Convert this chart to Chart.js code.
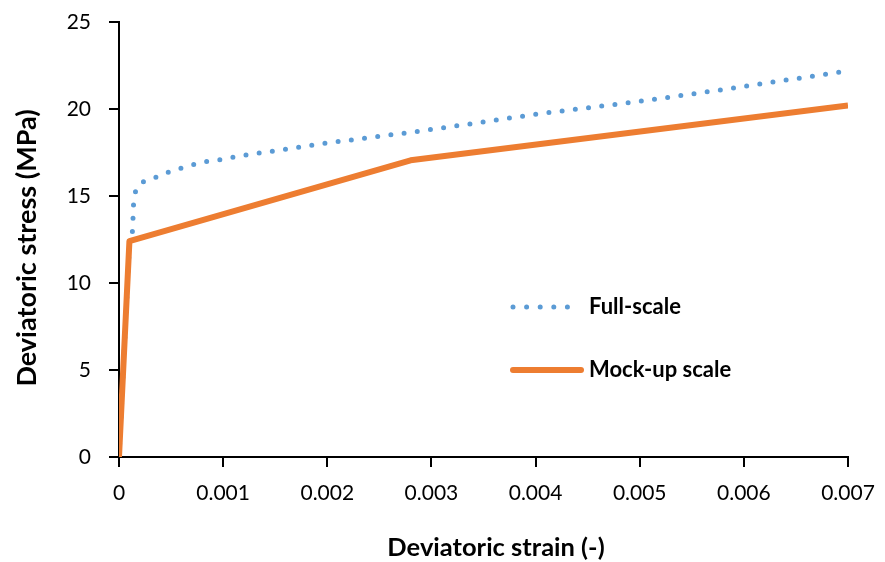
<!DOCTYPE html>
<html>
<head>
<meta charset="utf-8">
<script src="https://cdn.jsdelivr.net/npm/chart.js@4.4.1/dist/chart.umd.min.js"></script>
<style>
  html, body { margin: 0; padding: 0; background: #ffffff; }
  #wrap { width: 885px; height: 562px; position: relative; }
</style>
</head>
<body>
<div id="wrap"><canvas id="chart"></canvas></div>
<script>
// Deviatoric stress–strain response, two model scales
const fullScaleStrain = [0, 0.0001, 0.00013, 0.00014, 0.00016, 0.00021, 0.00033, 0.00045, 0.00058, 0.0007, 0.00083, 0.00096, 0.0012, 0.00147, 0.00173, 0.002, 0.0024, 0.0028, 0.0033, 0.004, 0.005, 0.0059, 0.007];
const fullScaleStress = [0, 12.2, 13.0, 14.6, 15.3, 15.76, 16.02, 16.32, 16.57, 16.78, 16.97, 17.07, 17.34, 17.57, 17.8, 18.05, 18.35, 18.66, 19.08, 19.7, 20.44, 21.2, 22.2];

const mockupStrain = [0, 0.0001, 0.0028, 0.007];
const mockupStress = [0, 12.4, 17.05, 20.2];

const seriesNames = ['Full-scale', 'Mock-up scale'];
const xTickLabels = ['0', '0.001', '0.002', '0.003', '0.004', '0.005', '0.006', '0.007'];
const yTickLabels = ['0', '5', '10', '15', '20', '25'];
const xTitle = 'Deviatoric strain (-)';
const yTitle = 'Deviatoric stress (MPa)';

const BLUE = '#5B9BD5';
const ORANGE = '#ED7D31';
const FONT = 'Lato, "Open Sans", sans-serif';

const toPoints = (xs, ys) => xs.map((x, i) => ({ x: x, y: ys[i] }));

// Axis titles and legend drawn relative to the plot area
const annotations = {
  id: 'annotations',
  afterDatasetsDraw(chart) {
    const { ctx, chartArea } = chart;
    ctx.save();

    // axis titles
    ctx.fillStyle = '#000000';
    ctx.textAlign = 'center';
    ctx.textBaseline = 'middle';
    ctx.font = 'bold 25.5px ' + FONT;
    ctx.fillText(xTitle, chartArea.left + 377, chartArea.bottom + 91);
    ctx.save();
    ctx.translate(chartArea.left - 92, chartArea.top + 226);
    ctx.rotate(-Math.PI / 2);
    ctx.font = 'bold 27px ' + FONT;
    ctx.fillText(yTitle, 0, 0);
    ctx.restore();

    // legend
    const x0 = chartArea.left + 394;
    const x1 = chartArea.left + 462;
    const tx = chartArea.left + 470;
    const rows = [chartArea.top + 285, chartArea.top + 348];
    ctx.strokeStyle = BLUE;
    ctx.lineWidth = 5;
    ctx.lineCap = 'round';
    ctx.setLineDash([0, 13.6]);
    ctx.beginPath();
    ctx.moveTo(x0, rows[0]);
    ctx.lineTo(x1 - 8, rows[0]);
    ctx.stroke();
    ctx.setLineDash([]);
    ctx.strokeStyle = ORANGE;
    ctx.lineWidth = 6;
    ctx.beginPath();
    ctx.moveTo(x0, rows[1]);
    ctx.lineTo(x1, rows[1]);
    ctx.stroke();
    ctx.font = 'bold 22px ' + FONT;
    ctx.textAlign = 'left';
    ctx.fillText(seriesNames[0], tx, rows[0]);
    ctx.fillText(seriesNames[1], tx, rows[1]);
    ctx.restore();
  }
};

new Chart(document.getElementById('chart'), {
  type: 'line',
  data: {
    datasets: [
      {
        label: seriesNames[1],
        data: toPoints(mockupStrain, mockupStress),
        borderColor: ORANGE,
        borderWidth: 6,
        pointRadius: 0,
        tension: 0,
        borderJoinStyle: 'round',
        order: 0
      },
      {
        label: seriesNames[0],
        data: toPoints(fullScaleStrain, fullScaleStress),
        borderColor: BLUE,
        borderWidth: 5,
        borderDash: [0, 13.3],
        borderCapStyle: 'round',
        pointRadius: 0,
        tension: 0,
        order: 1
      }
    ]
  },
  options: {
    responsive: true,
    maintainAspectRatio: false,
    animation: false,
    devicePixelRatio: 1,
    layout: { padding: { left: 0, right: 37, top: 22, bottom: 0 } },
    plugins: {
      legend: { display: false },
      tooltip: { enabled: false }
    },
    scales: {
      x: {
        type: 'linear',
        min: 0,
        max: 0.007,
        afterFit(scale) {
          scale.height = 105;
          scale.paddingLeft = 0;
          scale.paddingRight = 0;
        },
        afterBuildTicks(scale) {
          scale.ticks = xTickLabels.map(t => ({ value: parseFloat(t) }));
        },
        ticks: {
          autoSkip: false,
          maxRotation: 0,
          padding: 14,
          color: '#000000',
          font: { family: FONT, size: 21 },
          callback: (v, i) => xTickLabels[i]
        },
        grid: { drawOnChartArea: false, drawTicks: true, tickLength: 10, color: '#000000', lineWidth: 2 },
        border: { display: true, color: '#000000', width: 2 },
        title: { display: false }
      },
      y: {
        type: 'linear',
        min: 0,
        max: 25,
        afterFit(scale) {
          scale.width = 119;
          scale.paddingTop = 0;
          scale.paddingBottom = 0;
        },
        afterBuildTicks(scale) {
          scale.ticks = yTickLabels.map(t => ({ value: parseFloat(t) }));
        },
        ticks: {
          autoSkip: false,
          padding: 18,
          color: '#000000',
          font: { family: FONT, size: 21 },
          callback: (v, i) => yTickLabels[i]
        },
        grid: { drawOnChartArea: false, drawTicks: true, tickLength: 10, color: '#000000', lineWidth: 2 },
        border: { display: true, color: '#000000', width: 2 },
        title: { display: false }
      }
    }
  },
  plugins: [annotations]
});
</script>
</body>
</html>
